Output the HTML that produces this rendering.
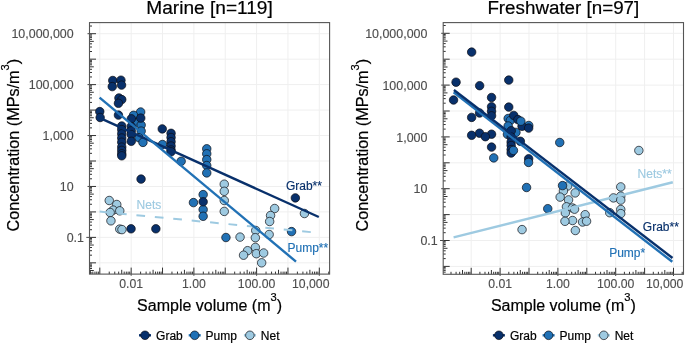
<!DOCTYPE html>
<html><head><meta charset="utf-8"><title>chart</title>
<style>html,body{margin:0;padding:0;background:#fff}svg{display:block;will-change:transform}</style></head>
<body>
<svg width="685" height="345" viewBox="0 0 685 345" font-family="Liberation Sans, sans-serif">
<rect width="685" height="345" fill="#fff"/>
<path d="M89.5 262.84H329.6 M89.5 237.38H329.6 M89.5 211.92H329.6 M89.5 186.46H329.6 M89.5 161H329.6 M89.5 135.54H329.6 M89.5 110.08H329.6 M89.5 84.62H329.6 M89.5 59.16H329.6 M89.5 33.7H329.6 M99.8 22.6V274.1 M131.16 22.6V274.1 M162.52 22.6V274.1 M193.88 22.6V274.1 M225.24 22.6V274.1 M256.6 22.6V274.1 M287.96 22.6V274.1 M319.32 22.6V274.1" stroke="#efefef" stroke-width="1" fill="none"/>
<g stroke="#0d0d12" stroke-width="0.7">
<g fill="#9ecae1"><circle cx="109.25" cy="200.5" r="4.25"/><circle cx="116.75" cy="204.5" r="4.25"/><circle cx="113.15" cy="210.1" r="4.25"/><circle cx="119.75" cy="210.8" r="4.25"/><circle cx="110.15" cy="212.5" r="4.25"/><circle cx="110.95" cy="220.8" r="4.25"/><circle cx="119.75" cy="229.1" r="4.25"/><circle cx="121.95" cy="229.6" r="4.25"/><circle cx="224.25" cy="184.2" r="4.25"/><circle cx="224.25" cy="191.3" r="4.25"/><circle cx="224.25" cy="200.5" r="4.25"/><circle cx="224.25" cy="211.4" r="4.25"/><circle cx="274.65" cy="208.5" r="4.25"/><circle cx="270.55" cy="215.5" r="4.25"/><circle cx="269.65" cy="221.5" r="4.25"/><circle cx="304.45" cy="213.5" r="4.25"/><circle cx="240.05" cy="237.1" r="4.25"/><circle cx="255.75" cy="230.5" r="4.25"/><circle cx="255.35" cy="237.7" r="4.25"/><circle cx="269.15" cy="234.5" r="4.25"/><circle cx="255.35" cy="247.4" r="4.25"/><circle cx="247.55" cy="250.7" r="4.25"/><circle cx="243.55" cy="255.2" r="4.25"/><circle cx="256.35" cy="253.7" r="4.25"/><circle cx="263.65" cy="253" r="4.25"/><circle cx="261.65" cy="262.8" r="4.25"/></g>
<g fill="#2171b5"><circle cx="140.65" cy="112" r="4.25"/><circle cx="133.55" cy="115.3" r="4.25"/><circle cx="136.65" cy="122.5" r="4.25"/><circle cx="141.15" cy="125.1" r="4.25"/><circle cx="141.15" cy="131.1" r="4.25"/><circle cx="138.95" cy="137.7" r="4.25"/><circle cx="142.95" cy="142.4" r="4.25"/><circle cx="162.45" cy="144.5" r="4.25"/><circle cx="181.15" cy="161.3" r="4.25"/><circle cx="206.75" cy="148.8" r="4.25"/><circle cx="206.75" cy="153.8" r="4.25"/><circle cx="206.75" cy="159.6" r="4.25"/><circle cx="206.75" cy="165.5" r="4.25"/><circle cx="206.75" cy="172.9" r="4.25"/><circle cx="203.15" cy="194.6" r="4.25"/><circle cx="203.15" cy="209.6" r="4.25"/><circle cx="203.15" cy="216.3" r="4.25"/><circle cx="193.45" cy="202.6" r="4.25"/><circle cx="225.95" cy="237.5" r="4.25"/><circle cx="291.55" cy="231.6" r="4.25"/></g>
<g fill="#08306b"><circle cx="112.75" cy="80.5" r="4.25"/><circle cx="112.25" cy="86.6" r="4.25"/><circle cx="120.95" cy="80.2" r="4.25"/><circle cx="121.55" cy="85.1" r="4.25"/><circle cx="118.95" cy="98" r="4.25"/><circle cx="121.75" cy="99.6" r="4.25"/><circle cx="118.45" cy="103.3" r="4.25"/><circle cx="99.75" cy="111.6" r="4.25"/><circle cx="100.15" cy="117.5" r="4.25"/><circle cx="118.45" cy="115.1" r="4.25"/><circle cx="131.35" cy="118.8" r="4.25"/><circle cx="140.75" cy="118.1" r="4.25"/><circle cx="121.75" cy="126" r="4.25"/><circle cx="121.75" cy="129.6" r="4.25"/><circle cx="121.75" cy="133.8" r="4.25"/><circle cx="121.75" cy="138" r="4.25"/><circle cx="121.75" cy="142.2" r="4.25"/><circle cx="121.75" cy="147.1" r="4.25"/><circle cx="121.75" cy="150.4" r="4.25"/><circle cx="121.75" cy="153.8" r="4.25"/><circle cx="121.75" cy="155.8" r="4.25"/><circle cx="131.25" cy="126.5" r="4.25"/><circle cx="131.25" cy="130.8" r="4.25"/><circle cx="131.25" cy="134.6" r="4.25"/><circle cx="131.25" cy="141.3" r="4.25"/><circle cx="162.25" cy="128.9" r="4.25"/><circle cx="171.05" cy="133.3" r="4.25"/><circle cx="171.05" cy="137.5" r="4.25"/><circle cx="171.05" cy="141.7" r="4.25"/><circle cx="171.05" cy="146" r="4.25"/><circle cx="171.05" cy="150" r="4.25"/><circle cx="171.05" cy="151.8" r="4.25"/><circle cx="141.05" cy="179.1" r="4.25"/><circle cx="131.05" cy="228.8" r="4.25"/><circle cx="155.85" cy="228.8" r="4.25"/><circle cx="295.35" cy="197.9" r="4.25"/></g>
<g fill="#08306b"><circle cx="203.15" cy="201.8" r="4.25"/></g>
</g>
<path d="M99.6 211.6L318.8 232.9" stroke="#9ecae1" stroke-width="2" stroke-dasharray="8.7 9.8" fill="none"/>
<path d="M99.6 117.9L318.8 217.0" stroke="#08306b" stroke-width="2.4" fill="none"/>
<path d="M99.6 97.6L296 261.6" stroke="#2171b5" stroke-width="2.4" fill="none"/>
<path d="M89.5 272.97h2.5 M89.5 270.5h4.3 M89.5 268.49h2.5 M89.5 266.78h2.5 M89.5 265.31h2.5 M89.5 264h2.5 M89.5 262.84h6.5 M89.5 255.18h2.5 M89.5 250.69h2.5 M89.5 247.51h2.5 M89.5 245.04h4.3 M89.5 243.03h2.5 M89.5 241.32h2.5 M89.5 239.85h2.5 M89.5 238.54h2.5 M89.5 237.38h6.5 M89.5 229.72h2.5 M89.5 225.23h2.5 M89.5 222.05h2.5 M89.5 219.58h4.3 M89.5 217.57h2.5 M89.5 215.86h2.5 M89.5 214.39h2.5 M89.5 213.08h2.5 M89.5 211.92h6.5 M89.5 204.26h2.5 M89.5 199.77h2.5 M89.5 196.59h2.5 M89.5 194.12h4.3 M89.5 192.11h2.5 M89.5 190.4h2.5 M89.5 188.93h2.5 M89.5 187.62h2.5 M89.5 186.46h6.5 M89.5 178.8h2.5 M89.5 174.31h2.5 M89.5 171.13h2.5 M89.5 168.66h4.3 M89.5 166.65h2.5 M89.5 164.94h2.5 M89.5 163.47h2.5 M89.5 162.16h2.5 M89.5 161h6.5 M89.5 153.34h2.5 M89.5 148.85h2.5 M89.5 145.67h2.5 M89.5 143.2h4.3 M89.5 141.19h2.5 M89.5 139.48h2.5 M89.5 138.01h2.5 M89.5 136.7h2.5 M89.5 135.54h6.5 M89.5 127.88h2.5 M89.5 123.39h2.5 M89.5 120.21h2.5 M89.5 117.74h4.3 M89.5 115.73h2.5 M89.5 114.02h2.5 M89.5 112.55h2.5 M89.5 111.24h2.5 M89.5 110.08h6.5 M89.5 102.42h2.5 M89.5 97.93h2.5 M89.5 94.75h2.5 M89.5 92.28h4.3 M89.5 90.27h2.5 M89.5 88.56h2.5 M89.5 87.09h2.5 M89.5 85.78h2.5 M89.5 84.62h6.5 M89.5 76.96h2.5 M89.5 72.47h2.5 M89.5 69.29h2.5 M89.5 66.82h4.3 M89.5 64.81h2.5 M89.5 63.1h2.5 M89.5 61.63h2.5 M89.5 60.32h2.5 M89.5 59.16h6.5 M89.5 51.5h2.5 M89.5 47.01h2.5 M89.5 43.83h2.5 M89.5 41.36h4.3 M89.5 39.35h2.5 M89.5 37.64h2.5 M89.5 36.17h2.5 M89.5 34.86h2.5 M89.5 33.7h6.5 M89.5 26.04h2.5 M90.36 274.1v-4.3 M92.84 274.1v-2.5 M94.94 274.1v-2.5 M96.76 274.1v-2.5 M98.37 274.1v-2.5 M99.8 274.1v-6.5 M109.24 274.1v-2.5 M114.76 274.1v-2.5 M118.68 274.1v-2.5 M121.72 274.1v-4.3 M124.2 274.1v-2.5 M126.3 274.1v-2.5 M128.12 274.1v-2.5 M129.73 274.1v-2.5 M131.16 274.1v-6.5 M140.6 274.1v-2.5 M146.12 274.1v-2.5 M150.04 274.1v-2.5 M153.08 274.1v-4.3 M155.56 274.1v-2.5 M157.66 274.1v-2.5 M159.48 274.1v-2.5 M161.09 274.1v-2.5 M162.52 274.1v-6.5 M171.96 274.1v-2.5 M177.48 274.1v-2.5 M181.4 274.1v-2.5 M184.44 274.1v-4.3 M186.92 274.1v-2.5 M189.02 274.1v-2.5 M190.84 274.1v-2.5 M192.45 274.1v-2.5 M193.88 274.1v-6.5 M203.32 274.1v-2.5 M208.84 274.1v-2.5 M212.76 274.1v-2.5 M215.8 274.1v-4.3 M218.28 274.1v-2.5 M220.38 274.1v-2.5 M222.2 274.1v-2.5 M223.81 274.1v-2.5 M225.24 274.1v-6.5 M234.68 274.1v-2.5 M240.2 274.1v-2.5 M244.12 274.1v-2.5 M247.16 274.1v-4.3 M249.64 274.1v-2.5 M251.74 274.1v-2.5 M253.56 274.1v-2.5 M255.17 274.1v-2.5 M256.6 274.1v-6.5 M266.04 274.1v-2.5 M271.56 274.1v-2.5 M275.48 274.1v-2.5 M278.52 274.1v-4.3 M281 274.1v-2.5 M283.1 274.1v-2.5 M284.92 274.1v-2.5 M286.53 274.1v-2.5 M287.96 274.1v-6.5 M297.4 274.1v-2.5 M302.92 274.1v-2.5 M306.84 274.1v-2.5 M309.88 274.1v-4.3 M312.36 274.1v-2.5 M314.46 274.1v-2.5 M316.28 274.1v-2.5 M317.89 274.1v-2.5 M319.32 274.1v-6.5 M328.76 274.1v-2.5" stroke="#333333" stroke-width="1" fill="none"/>
<path d="M89.5 33.7h-2.0 M89.5 84.62h-2.0 M89.5 135.54h-2.0 M89.5 186.46h-2.0 M89.5 237.38h-3.2 M131.16 274.1v1.7 M193.88 274.1v1.7 M256.6 274.1v1.7 M319.32 274.1v1.7" stroke="#333333" stroke-width="0.9" fill="none"/>
<rect x="89.5" y="22.6" width="240.1" height="251.5" fill="none" stroke="#555555" stroke-width="1.1"/>
<text x="73.7" y="38.3" font-size="12.45" fill="#4d4d4d" stroke="#4d4d4d" stroke-width="0.12" text-anchor="end">10,000,000</text>
<text x="73.7" y="89.22" font-size="12.45" fill="#4d4d4d" stroke="#4d4d4d" stroke-width="0.12" text-anchor="end">100,000</text>
<text x="73.7" y="140.14" font-size="12.45" fill="#4d4d4d" stroke="#4d4d4d" stroke-width="0.12" text-anchor="end">1,000</text>
<text x="73.7" y="191.06" font-size="12.45" fill="#4d4d4d" stroke="#4d4d4d" stroke-width="0.12" text-anchor="end">10</text>
<text x="84" y="241.98" font-size="12.45" fill="#4d4d4d" stroke="#4d4d4d" stroke-width="0.12" text-anchor="end">0.1</text>
<text x="131.16" y="288.2" font-size="12.25" fill="#4d4d4d" stroke="#4d4d4d" stroke-width="0.12" text-anchor="middle">0.01</text>
<text x="193.88" y="288.2" font-size="12.25" fill="#4d4d4d" stroke="#4d4d4d" stroke-width="0.12" text-anchor="middle">1.00</text>
<text x="256.6" y="288.2" font-size="12.25" fill="#4d4d4d" stroke="#4d4d4d" stroke-width="0.12" text-anchor="middle">100.00</text>
<text x="329.5" y="288.2" font-size="12.25" fill="#4d4d4d" stroke="#4d4d4d" stroke-width="0.12" text-anchor="end">10,000</text>
<text x="209.55" y="13.6" font-size="19.1" fill="#000" stroke="#000" stroke-width="0.2" text-anchor="middle">Marine [n=119]</text>
<text x="209.55" y="310.6" font-size="16" fill="#000" stroke="#000" stroke-width="0.2" text-anchor="middle">Sample volume (m<tspan font-size="11.2" dy="-9.3">3</tspan><tspan dy="9.3">)</tspan></text>
<text transform="translate(18.6 145.2) rotate(-90)" font-size="16.2" fill="#000" stroke="#000" stroke-width="0.2" text-anchor="middle">Concentration (MPs/m<tspan font-size="11.2" dy="-9.3">3</tspan><tspan dy="9.3">)</tspan></text>
<path d="M443.2 266.4H683.5 M443.2 240.5H683.5 M443.2 214.6H683.5 M443.2 188.7H683.5 M443.2 162.8H683.5 M443.2 136.9H683.5 M443.2 111H683.5 M443.2 85.1H683.5 M443.2 59.2H683.5 M443.2 33.3H683.5 M471.2 22.6V274.3 M500.1 22.6V274.3 M529 22.6V274.3 M557.9 22.6V274.3 M586.8 22.6V274.3 M615.7 22.6V274.3 M644.6 22.6V274.3 M673.5 22.6V274.3" stroke="#efefef" stroke-width="1" fill="none"/>
<g stroke="#0d0d12" stroke-width="0.7">
<g fill="#9ecae1"><circle cx="638.85" cy="150.5" r="4.25"/><circle cx="522.05" cy="229.6" r="4.25"/><circle cx="567.65" cy="186" r="4.25"/><circle cx="563.45" cy="190.9" r="4.25"/><circle cx="575.15" cy="192.9" r="4.25"/><circle cx="560.15" cy="197.1" r="4.25"/><circle cx="568.55" cy="199.9" r="4.25"/><circle cx="566.45" cy="206.8" r="4.25"/><circle cx="572.45" cy="208" r="4.25"/><circle cx="574.55" cy="209.2" r="4.25"/><circle cx="565.35" cy="212.9" r="4.25"/><circle cx="585.15" cy="214.7" r="4.25"/><circle cx="572.55" cy="220.5" r="4.25"/><circle cx="564.95" cy="221.3" r="4.25"/><circle cx="582.55" cy="222" r="4.25"/><circle cx="586.55" cy="221.2" r="4.25"/><circle cx="575.35" cy="230.5" r="4.25"/><circle cx="620.75" cy="186.9" r="4.25"/><circle cx="613.45" cy="197.9" r="4.25"/><circle cx="620.75" cy="196.1" r="4.25"/><circle cx="620.75" cy="200.1" r="4.25"/><circle cx="620.75" cy="209.5" r="4.25"/><circle cx="620.75" cy="213.6" r="4.25"/><circle cx="609.75" cy="212.7" r="4.25"/></g>
<g fill="#2171b5"><circle cx="508.15" cy="118.5" r="4.25"/><circle cx="510.35" cy="120.5" r="4.25"/><circle cx="508.15" cy="126" r="4.25"/><circle cx="528.75" cy="125.5" r="4.25"/><circle cx="515.95" cy="132.4" r="4.25"/><circle cx="507.45" cy="134.3" r="4.25"/></g>
<g fill="#08306b"><circle cx="471.65" cy="52.1" r="4.25"/><circle cx="456.05" cy="82.2" r="4.25"/><circle cx="479.65" cy="85.7" r="4.25"/><circle cx="508.75" cy="80.1" r="4.25"/><circle cx="453.55" cy="100" r="4.25"/><circle cx="491.55" cy="97.5" r="4.25"/><circle cx="491.55" cy="106.8" r="4.25"/><circle cx="491.55" cy="111.3" r="4.25"/><circle cx="491.55" cy="115.8" r="4.25"/><circle cx="479.55" cy="113" r="4.25"/><circle cx="471.65" cy="117.4" r="4.25"/><circle cx="508.75" cy="107.1" r="4.25"/><circle cx="513.75" cy="115.4" r="4.25"/><circle cx="517.85" cy="119.6" r="4.25"/><circle cx="522.05" cy="126.3" r="4.25"/><circle cx="528.65" cy="128.1" r="4.25"/><circle cx="511.25" cy="130.7" r="4.25"/><circle cx="479.55" cy="133.2" r="4.25"/><circle cx="471.65" cy="135.3" r="4.25"/><circle cx="491.55" cy="134.2" r="4.25"/><circle cx="485.35" cy="136.7" r="4.25"/><circle cx="491.55" cy="147.1" r="4.25"/><circle cx="520.35" cy="141.3" r="4.25"/><circle cx="511.15" cy="137.1" r="4.25"/><circle cx="511.15" cy="142.1" r="4.25"/><circle cx="511.15" cy="145.5" r="4.25"/><circle cx="511.15" cy="149.6" r="4.25"/><circle cx="511.15" cy="153" r="4.25"/><circle cx="528.65" cy="158.8" r="4.25"/></g>
<g fill="#2171b5"><circle cx="520.85" cy="121.2" r="4.25"/><circle cx="513.45" cy="150.4" r="4.25"/><circle cx="528.55" cy="162.4" r="4.25"/><circle cx="493.75" cy="157.9" r="4.25"/><circle cx="559.75" cy="142.5" r="4.25"/><circle cx="526.55" cy="187.5" r="4.25"/><circle cx="547.75" cy="208.7" r="4.25"/><circle cx="562.55" cy="185.6" r="4.25"/></g>
</g>
<path d="M453.6 237.4L672.8 182.3" stroke="#9ecae1" stroke-width="2.5" fill="none"/>
<path d="M453.6 92.3L672.3 261.8" stroke="#2171b5" stroke-width="2.4" fill="none"/>
<path d="M453.9 90L672.5 258" stroke="#08306b" stroke-width="2.4" fill="none"/>
<path d="M443.2 272.15h2.5 M443.2 270.41h2.5 M443.2 268.91h2.5 M443.2 267.59h2.5 M443.2 266.4h6.5 M443.2 258.6h2.5 M443.2 254.04h2.5 M443.2 250.81h2.5 M443.2 248.3h4.3 M443.2 246.25h2.5 M443.2 244.51h2.5 M443.2 243.01h2.5 M443.2 241.69h2.5 M443.2 240.5h6.5 M443.2 232.7h2.5 M443.2 228.14h2.5 M443.2 224.91h2.5 M443.2 222.4h4.3 M443.2 220.35h2.5 M443.2 218.61h2.5 M443.2 217.11h2.5 M443.2 215.79h2.5 M443.2 214.6h6.5 M443.2 206.8h2.5 M443.2 202.24h2.5 M443.2 199.01h2.5 M443.2 196.5h4.3 M443.2 194.45h2.5 M443.2 192.71h2.5 M443.2 191.21h2.5 M443.2 189.89h2.5 M443.2 188.7h6.5 M443.2 180.9h2.5 M443.2 176.34h2.5 M443.2 173.11h2.5 M443.2 170.6h4.3 M443.2 168.55h2.5 M443.2 166.81h2.5 M443.2 165.31h2.5 M443.2 163.99h2.5 M443.2 162.8h6.5 M443.2 155h2.5 M443.2 150.44h2.5 M443.2 147.21h2.5 M443.2 144.7h4.3 M443.2 142.65h2.5 M443.2 140.91h2.5 M443.2 139.41h2.5 M443.2 138.09h2.5 M443.2 136.9h6.5 M443.2 129.1h2.5 M443.2 124.54h2.5 M443.2 121.31h2.5 M443.2 118.8h4.3 M443.2 116.75h2.5 M443.2 115.01h2.5 M443.2 113.51h2.5 M443.2 112.19h2.5 M443.2 111h6.5 M443.2 103.2h2.5 M443.2 98.64h2.5 M443.2 95.41h2.5 M443.2 92.9h4.3 M443.2 90.85h2.5 M443.2 89.11h2.5 M443.2 87.61h2.5 M443.2 86.29h2.5 M443.2 85.1h6.5 M443.2 77.3h2.5 M443.2 72.74h2.5 M443.2 69.51h2.5 M443.2 67h4.3 M443.2 64.95h2.5 M443.2 63.21h2.5 M443.2 61.71h2.5 M443.2 60.39h2.5 M443.2 59.2h6.5 M443.2 51.4h2.5 M443.2 46.84h2.5 M443.2 43.61h2.5 M443.2 41.1h4.3 M443.2 39.05h2.5 M443.2 37.31h2.5 M443.2 35.81h2.5 M443.2 34.49h2.5 M443.2 33.3h6.5 M443.2 25.5h2.5 M451 274.3v-2.5 M456.09 274.3v-2.5 M459.7 274.3v-2.5 M462.5 274.3v-4.3 M464.79 274.3v-2.5 M466.72 274.3v-2.5 M468.4 274.3v-2.5 M469.88 274.3v-2.5 M471.2 274.3v-6.5 M479.9 274.3v-2.5 M484.99 274.3v-2.5 M488.6 274.3v-2.5 M491.4 274.3v-4.3 M493.69 274.3v-2.5 M495.62 274.3v-2.5 M497.3 274.3v-2.5 M498.78 274.3v-2.5 M500.1 274.3v-6.5 M508.8 274.3v-2.5 M513.89 274.3v-2.5 M517.5 274.3v-2.5 M520.3 274.3v-4.3 M522.59 274.3v-2.5 M524.52 274.3v-2.5 M526.2 274.3v-2.5 M527.68 274.3v-2.5 M529 274.3v-6.5 M537.7 274.3v-2.5 M542.79 274.3v-2.5 M546.4 274.3v-2.5 M549.2 274.3v-4.3 M551.49 274.3v-2.5 M553.42 274.3v-2.5 M555.1 274.3v-2.5 M556.58 274.3v-2.5 M557.9 274.3v-6.5 M566.6 274.3v-2.5 M571.69 274.3v-2.5 M575.3 274.3v-2.5 M578.1 274.3v-4.3 M580.39 274.3v-2.5 M582.32 274.3v-2.5 M584 274.3v-2.5 M585.48 274.3v-2.5 M586.8 274.3v-6.5 M595.5 274.3v-2.5 M600.59 274.3v-2.5 M604.2 274.3v-2.5 M607 274.3v-4.3 M609.29 274.3v-2.5 M611.22 274.3v-2.5 M612.9 274.3v-2.5 M614.38 274.3v-2.5 M615.7 274.3v-6.5 M624.4 274.3v-2.5 M629.49 274.3v-2.5 M633.1 274.3v-2.5 M635.9 274.3v-4.3 M638.19 274.3v-2.5 M640.12 274.3v-2.5 M641.8 274.3v-2.5 M643.28 274.3v-2.5 M644.6 274.3v-6.5 M653.3 274.3v-2.5 M658.39 274.3v-2.5 M662 274.3v-2.5 M664.8 274.3v-4.3 M667.09 274.3v-2.5 M669.02 274.3v-2.5 M670.7 274.3v-2.5 M672.18 274.3v-2.5 M673.5 274.3v-6.5 M682.2 274.3v-2.5" stroke="#333333" stroke-width="1" fill="none"/>
<path d="M443.2 33.3h-2.0 M443.2 85.1h-2.0 M443.2 136.9h-2.0 M443.2 188.7h-2.0 M443.2 240.5h-3.2 M500.1 274.3v1.7 M557.9 274.3v1.7 M615.7 274.3v1.7 M673.5 274.3v1.7" stroke="#333333" stroke-width="0.9" fill="none"/>
<rect x="443.2" y="22.6" width="240.3" height="251.7" fill="none" stroke="#555555" stroke-width="1.1"/>
<text x="427.4" y="37.9" font-size="12.45" fill="#4d4d4d" stroke="#4d4d4d" stroke-width="0.12" text-anchor="end">10,000,000</text>
<text x="427.4" y="89.7" font-size="12.45" fill="#4d4d4d" stroke="#4d4d4d" stroke-width="0.12" text-anchor="end">100,000</text>
<text x="427.4" y="141.5" font-size="12.45" fill="#4d4d4d" stroke="#4d4d4d" stroke-width="0.12" text-anchor="end">1,000</text>
<text x="427.4" y="193.3" font-size="12.45" fill="#4d4d4d" stroke="#4d4d4d" stroke-width="0.12" text-anchor="end">10</text>
<text x="437.7" y="245.1" font-size="12.45" fill="#4d4d4d" stroke="#4d4d4d" stroke-width="0.12" text-anchor="end">0.1</text>
<text x="500.1" y="288.2" font-size="12.25" fill="#4d4d4d" stroke="#4d4d4d" stroke-width="0.12" text-anchor="middle">0.01</text>
<text x="557.9" y="288.2" font-size="12.25" fill="#4d4d4d" stroke="#4d4d4d" stroke-width="0.12" text-anchor="middle">1.00</text>
<text x="615.7" y="288.2" font-size="12.25" fill="#4d4d4d" stroke="#4d4d4d" stroke-width="0.12" text-anchor="middle">100.00</text>
<text x="683.4" y="288.2" font-size="12.25" fill="#4d4d4d" stroke="#4d4d4d" stroke-width="0.12" text-anchor="end">10,000</text>
<text x="563.35" y="13.6" font-size="18.8" fill="#000" stroke="#000" stroke-width="0.2" text-anchor="middle">Freshwater [n=97]</text>
<text x="563.35" y="310.6" font-size="16" fill="#000" stroke="#000" stroke-width="0.2" text-anchor="middle">Sample volume (m<tspan font-size="11.2" dy="-9.3">3</tspan><tspan dy="9.3">)</tspan></text>
<text transform="translate(367.8 145.2) rotate(-90)" font-size="16.2" fill="#000" stroke="#000" stroke-width="0.2" text-anchor="middle">Concentration (MPs/m<tspan font-size="11.2" dy="-9.3">3</tspan><tspan dy="9.3">)</tspan></text>
<text x="136.6" y="209.1" font-size="12" fill="#9ecae1" stroke="#9ecae1" stroke-width="0.15">Nets</text>
<text x="285.9" y="189.6" font-size="12" fill="#08306b" stroke="#08306b" stroke-width="0.15">Grab**</text>
<text x="287.5" y="252.4" font-size="12" fill="#2171b5" stroke="#2171b5" stroke-width="0.15">Pump**</text>
<text x="637.6" y="177.5" font-size="12" fill="#9ecae1" stroke="#9ecae1" stroke-width="0.15">Nets**</text>
<text x="642.8" y="230.5" font-size="12" fill="#08306b" stroke="#08306b" stroke-width="0.15">Grab**</text>
<text x="609.2" y="257.2" font-size="12" fill="#2171b5" stroke="#2171b5" stroke-width="0.15">Pump*</text>
<path d="M139 335.3h12" stroke="#08306b" stroke-width="2.4"/><circle cx="145" cy="335.3" r="4.3" fill="#08306b" stroke="#0d0d12" stroke-width="0.7"/><text x="156.1" y="340.4" font-size="12" fill="#000" stroke="#000" stroke-width="0.2">Grab</text><path d="M188.7 335.3h12" stroke="#2171b5" stroke-width="2.4"/><circle cx="194.7" cy="335.3" r="4.3" fill="#2171b5" stroke="#0d0d12" stroke-width="0.7"/><text x="205.6" y="340.4" font-size="12" fill="#000" stroke="#000" stroke-width="0.2">Pump</text><path d="M243.9 335.3h12" stroke="#9ecae1" stroke-width="2.4"/><circle cx="249.9" cy="335.3" r="4.3" fill="#9ecae1" stroke="#0d0d12" stroke-width="0.7"/><text x="260.8" y="340.4" font-size="12" fill="#000" stroke="#000" stroke-width="0.2">Net</text>
<path d="M492.9 335.3h12" stroke="#08306b" stroke-width="2.4"/><circle cx="498.9" cy="335.3" r="4.3" fill="#08306b" stroke="#0d0d12" stroke-width="0.7"/><text x="510" y="340.4" font-size="12" fill="#000" stroke="#000" stroke-width="0.2">Grab</text><path d="M542.6 335.3h12" stroke="#2171b5" stroke-width="2.4"/><circle cx="548.6" cy="335.3" r="4.3" fill="#2171b5" stroke="#0d0d12" stroke-width="0.7"/><text x="559.5" y="340.4" font-size="12" fill="#000" stroke="#000" stroke-width="0.2">Pump</text><path d="M597.8 335.3h12" stroke="#9ecae1" stroke-width="2.4"/><circle cx="603.8" cy="335.3" r="4.3" fill="#9ecae1" stroke="#0d0d12" stroke-width="0.7"/><text x="614.7" y="340.4" font-size="12" fill="#000" stroke="#000" stroke-width="0.2">Net</text>
</svg>
</body></html>
